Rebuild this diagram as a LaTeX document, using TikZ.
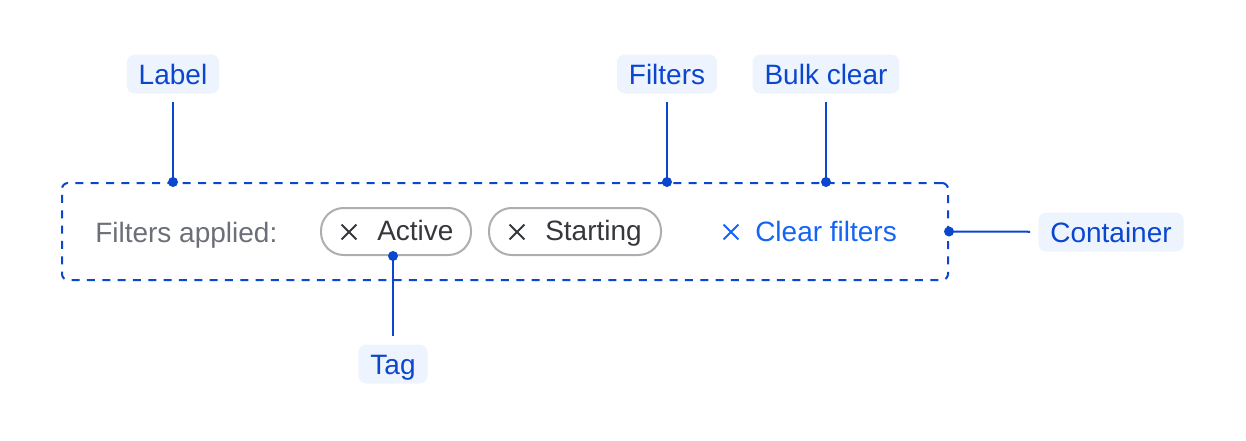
\documentclass[tikz,border=0pt]{standalone}
\usepackage{fontspec}
\setmainfont{Liberation Sans}
\usetikzlibrary{positioning,shapes.misc}
\definecolor{calloutblue}{HTML}{0B46CF}
\definecolor{calloutfill}{HTML}{EDF4FE}
\definecolor{linkblue}{HTML}{1565F5}
\definecolor{tagborder}{HTML}{AEAEB2}
\definecolor{tagtext}{HTML}{36373D}
\definecolor{labelgray}{HTML}{6C6F78}

\tikzset{
  callout/.style={fill=calloutfill, text=calloutblue, rounded corners=6pt,
    minimum height=29.25pt, inner xsep=9pt, inner ysep=0pt,
    text height=15pt, text depth=0pt, font=\fontsize{21}{25}\selectfont},
  leader/.style={draw=calloutblue, line width=1.5pt},
  dot/.style={fill=calloutblue},
  pill/.style={draw=tagborder, line width=1.5pt, rounded corners=17pt,
    minimum height=35.25pt, inner sep=0pt},
  tagword/.style={anchor=base west, inner sep=0pt, text=tagtext,
    font=\fontsize{21}{25}\selectfont},
  cross/.style={cross out, draw, line width=1.4pt, inner sep=0pt,
    minimum size=9.75pt}
}

\begin{document}
\begin{tikzpicture}[x=0.75pt, y=-0.75pt]
  \useasboundingbox (0,0) rectangle (1246,440);

  % Container
  \node[draw=calloutblue, line width=1.5pt, dash pattern=on 6pt off 5.5pt,
    rounded corners=4.5pt, minimum width=664.5pt, minimum height=72.75pt]
    (box) at (505,231.5) {};

  % Contents
  \node[tagword, text=labelgray] (applied) at (95,242) {Filters applied:};

  \node[pill, minimum width=112.5pt] (active) at (396,231.5) {};
  \node[cross, draw=tagtext] (activex) at (349,232) {};
  \node[tagword] (activetxt) at (377,240) {Active};

  \node[pill, minimum width=129pt] (starting) at (575,231.5) {};
  \node[cross, draw=tagtext] (startingx) at (517,232) {};
  \node[tagword] (startingtxt) at (545,240) {Starting};

  \node[cross, draw=linkblue] (clearx) at (731,232) {};
  \node[tagword, text=linkblue] (cleartxt) at (755,241) {Clear filters};

  % Callouts
  \node[callout] (label) at (173,74) {Label};
  \node[callout] (filters) at (667,74) {Filters};
  \node[callout] (bulk) at (826,74) {Bulk clear};
  \node[callout] (container) at (1111,232) {Container};
  \node[callout] (tag) at (393,364) {Tag};

  % Anchor points
  \coordinate (labeldot) at (label |- box.north);
  \coordinate (filtersdot) at (filters |- box.north);
  \coordinate (bulkdot) at (bulk |- box.north);
  \coordinate (containerdot) at (box.east);
  \coordinate (tagdot) at (tag |- active.south);

  % Leaders
  \draw[leader, shorten <=6pt] (label) -- (labeldot);
  \draw[leader, shorten <=6pt] (filters) -- (filtersdot);
  \draw[leader, shorten <=6pt] (bulk) -- (bulkdot);
  \draw[leader, shorten >=6pt] (containerdot) -- (container);
  \draw[leader, shorten >=6pt] (tagdot) -- (tag);

  \foreach \p in {labeldot, filtersdot, bulkdot, containerdot, tagdot}
    \fill[dot] (\p) circle (3.75pt);
\end{tikzpicture}
\end{document}
